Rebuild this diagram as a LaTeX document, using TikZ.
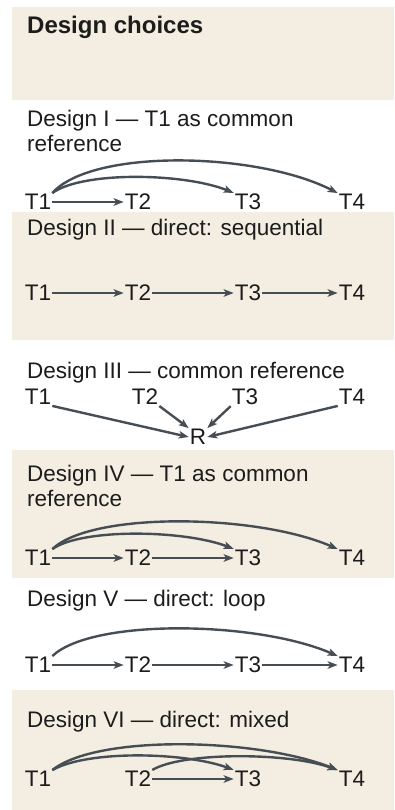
\documentclass[tikz,border=0pt]{standalone}
\usepackage{fontspec}
\setmainfont{Liberation Sans}
\usetikzlibrary{arrows.meta}
\definecolor{beige}{RGB}{244,238,226}
\definecolor{arrowc}{RGB}{70,78,84}
\definecolor{txt}{RGB}{28,28,28}
\tikzset{
 band/.style={fill=beige, draw=none},
 title/.style={anchor=base west, inner sep=0pt, align=left, font=\fontsize{22.5}{25}\selectfont, text=txt},
 head/.style={anchor=base west, inner sep=0pt, font=\bfseries\fontsize{24}{26}\selectfont, text=txt},
 tn/.style={inner sep=1pt, font=\fontsize{22.5}{25}\selectfont, text=txt},
 arr/.style={draw=arrowc, line width=2.4pt, -{Stealth[length=10pt,width=7.5pt,inset=2.5pt]}},
}
\begin{document}
\begin{tikzpicture}[x=1pt,y=-1pt]
\useasboundingbox (0,0) rectangle (394,810);
\fill[white] (0,0) rectangle (394,810);
\fill[band] (12,7) rectangle (394,100);
\fill[band] (12,212) rectangle (394,340);
\fill[band] (12,450) rectangle (394,578);
\fill[band] (12,690) rectangle (394,810);

\node[head] (hd) at (27,34) {Design choices};

% Design I
\node[title] (d1) at (27,152) {Design I — T1 as common\\reference};
\node[tn] (a1) at (38,202) {T1};
\node[tn] (a2) at (138,202) {T2};
\node[tn] (a3) at (248,202) {T3};
\node[tn] (a4) at (352,202) {T4};
\draw[arr] (a1) -- (a2);
\draw[arr] (a1.north east) .. controls +(30,-22) and +(-50,-20) .. (a3.north west);
\draw[arr] (a1.north east) .. controls +(40,-45) and +(-80,-41) .. (a4.north west);

% Design II
\node[title] (d2) at (27,236) {Design II — direct: sequential};
\node[tn] (b1) at (38,293) {T1};
\node[tn] (b2) at (138,293) {T2};
\node[tn] (b3) at (248,293) {T3};
\node[tn] (b4) at (352,293) {T4};
\draw[arr] (b1) -- (b2);
\draw[arr] (b2) -- (b3);
\draw[arr] (b3) -- (b4);

% Design III
\node[title] (d3) at (27,378) {Design III — common reference};
\node[tn] (c1) at (38,397) {T1};
\node[tn] (c2) at (145,397) {T2};
\node[tn] (c3) at (245,397) {T3};
\node[tn] (c4) at (352,397) {T4};
\node[tn] (r) at (198,437) {R};
\draw[arr] (c1.south east) -- (r.west);
\draw[arr] (c2.south east) -- (r.north west);
\draw[arr] (c3.south west) -- (r.north east);
\draw[arr] (c4.south west) -- (r.east);

% Design IV
\node[title] (d4) at (27,506) {Design IV — T1 as common\\reference};
\node[tn] (e1) at (38,558) {T1};
\node[tn] (e2) at (138,558) {T2};
\node[tn] (e3) at (248,558) {T3};
\node[tn] (e4) at (352,558) {T4};
\draw[arr] (e1) -- (e2);
\draw[arr] (e2) -- (e3);
\draw[arr] (e1.north east) .. controls +(30,-21) and +(-50,-19) .. (e3.north west);
\draw[arr] (e1.north east) .. controls +(40,-38) and +(-80,-35) .. (e4.north west);

% Design V
\node[title] (d5) at (27,606) {Design V — direct: loop};
\node[tn] (f1) at (38,665) {T1};
\node[tn] (f2) at (138,665) {T2};
\node[tn] (f3) at (248,665) {T3};
\node[tn] (f4) at (352,665) {T4};
\draw[arr] (f1) -- (f2);
\draw[arr] (f2) -- (f3);
\draw[arr] (f3) -- (f4);
\draw[arr] (f1.north east) .. controls +(40,-38) and +(-80,-35) .. (f4.north west);

% Design VI
\node[title] (d6) at (27,727) {Design VI — direct: mixed};
\node[tn] (g1) at (38,779) {T1};
\node[tn] (g2) at (138,779) {T2};
\node[tn] (g3) at (248,779) {T3};
\node[tn] (g4) at (352,779) {T4};
\draw[arr] (g2) -- (g3);
\draw[arr] (g1.north east) .. controls +(35,-20) and +(-50,-18) .. (g3.north west);
\draw[arr] (g1.north east) .. controls +(45,-36) and +(-80,-32) .. (g4.north west);
\draw[arr] (g2.north east) .. controls +(30,-18) and +(-50,-18) .. (g4.north west);
\end{tikzpicture}
\end{document}
